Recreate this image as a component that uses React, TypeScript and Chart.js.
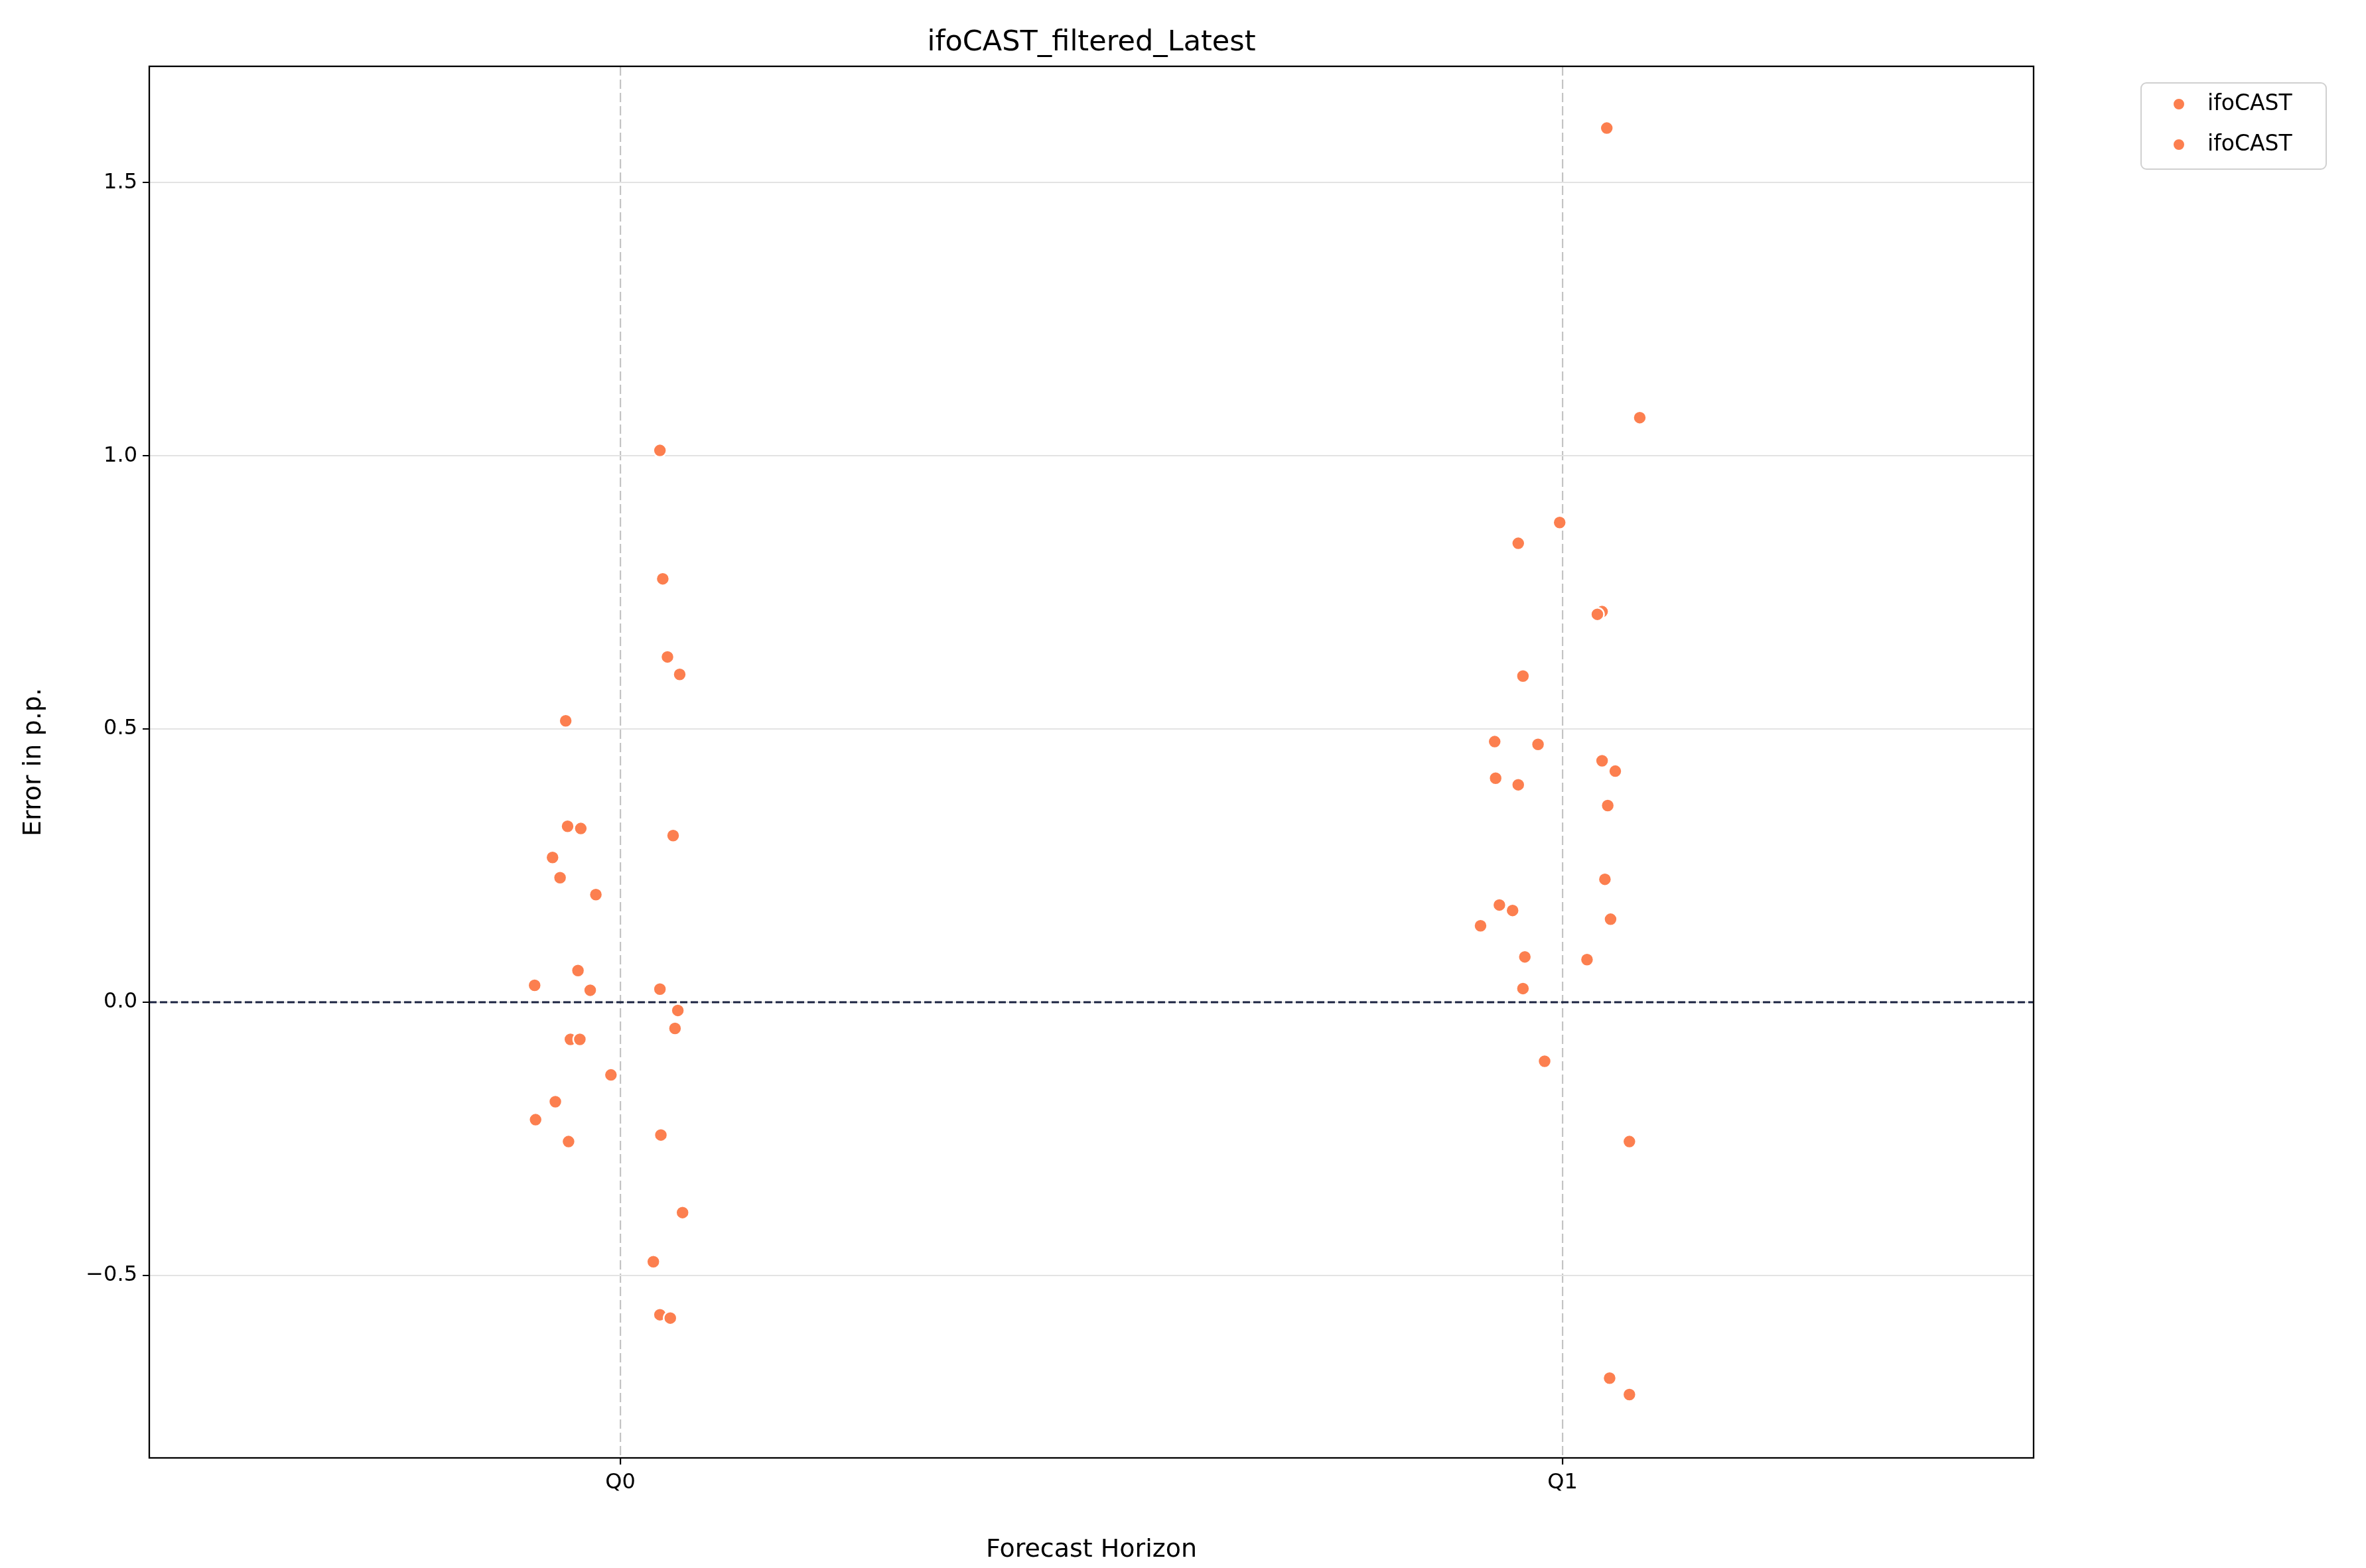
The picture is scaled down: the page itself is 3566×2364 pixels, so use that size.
import { useEffect, useRef } from 'react';
import { Chart, registerables } from 'chart.js';

Chart.register(...registerables);

const CATEGORIES = ['Q0', 'Q1'];
const Y_TICKS = [-0.5, 0, 0.5, 1, 1.5];
const SERIES_LABEL = 'ifoCAST';

// jittered horizon position, error in p.p.
const q0X = [0.042, 0.045, 0.05, 0.063, -0.058, -0.056, -0.042, 0.056, -0.072, -0.064, -0.026, -0.045, -0.091, -0.032, 0.042, 0.061, 0.058, -0.053, -0.043, -0.01, -0.069, -0.09, 0.043, -0.055, 0.066, 0.035, 0.042, 0.053];
const q0Y = [1.01, 0.775, 0.632, 0.6, 0.515, 0.322, 0.318, 0.305, 0.265, 0.228, 0.197, 0.058, 0.031, 0.022, 0.024, -0.015, -0.048, -0.068, -0.068, -0.133, -0.182, -0.215, -0.243, -0.255, -0.385, -0.475, -0.572, -0.578];
const q1X = [1.047, 1.082, 0.997, 0.953, 1.042, 1.037, 0.958, 0.928, 0.974, 1.042, 1.056, 0.929, 0.953, 1.048, 1.045, 0.933, 0.947, 0.913, 1.051, 0.96, 1.026, 0.958, 0.981, 1.071, 1.05, 1.071];
const q1Y = [1.6, 1.07, 0.878, 0.84, 0.715, 0.71, 0.597, 0.477, 0.472, 0.442, 0.423, 0.41, 0.398, 0.36, 0.225, 0.178, 0.168, 0.14, 0.152, 0.083, 0.078, 0.025, -0.108, -0.255, -0.688, -0.718];

const W = 3566;
const H = 2364;
const AREA = { left: 225, top: 100, right: 3065, bottom: 2198 };
const COLOR = '#fc7f4f';
const FONT = '"DejaVu Sans", sans-serif';

const decorPlugin = {
  id: 'decor',
  beforeDatasetsDraw(chart: any) {
    const { ctx, chartArea, scales } = chart;
    const y0 = scales.y.getPixelForValue(0);
    ctx.save();
    ctx.strokeStyle = '#1a2340';
    ctx.lineWidth = 2.8;
    ctx.setLineDash([11, 5]);
    ctx.beginPath();
    ctx.moveTo(chartArea.left, y0);
    ctx.lineTo(chartArea.right, y0);
    ctx.stroke();
    ctx.restore();
  },
  afterDraw(chart: any) {
    const { ctx, chartArea } = chart;
    ctx.save();
    ctx.strokeStyle = '#000';
    ctx.lineWidth = 2.3;
    ctx.strokeRect(chartArea.left, chartArea.top, chartArea.right - chartArea.left, chartArea.bottom - chartArea.top);

    ctx.fillStyle = '#000';
    ctx.font = `43px ${FONT}`;
    ctx.textAlign = 'center';
    ctx.textBaseline = 'bottom';
    ctx.fillText('ifoCAST_filtered_Latest', (chartArea.left + chartArea.right) / 2, chartArea.top - 14);

    // legend
    ctx.fillStyle = '#fff';
    ctx.strokeStyle = '#d0d0d0';
    ctx.lineWidth = 2;
    ctx.beginPath();
    ctx.roundRect(3227, 125, 279, 130, 8);
    ctx.fill();
    ctx.stroke();
    ctx.font = `33px ${FONT}`;
    ctx.textAlign = 'left';
    ctx.textBaseline = 'middle';
    [157, 218].forEach((y) => {
      ctx.beginPath();
      ctx.arc(3284, y, 9, 0, Math.PI * 2);
      ctx.fillStyle = COLOR;
      ctx.fill();
      ctx.strokeStyle = '#fff';
      ctx.lineWidth = 2;
      ctx.stroke();
      ctx.fillStyle = '#000';
      ctx.fillText(SERIES_LABEL, 3327, y);
    });
    ctx.restore();
  },
};

export default function App() {
  const canvasRef = useRef<HTMLCanvasElement>(null);
  const chartRef = useRef<any>(null);

  useEffect(() => {
    document.body.style.margin = '0';
    if (!canvasRef.current) return;
    if (chartRef.current) chartRef.current.destroy();

    const ds = (xs: number[], ys: number[]) => ({
      label: SERIES_LABEL,
      data: xs.map((x, i) => ({ x, y: ys[i] })),
      backgroundColor: COLOR,
      borderColor: '#fff',
      borderWidth: 2.5,
      pointRadius: 10,
    });

    chartRef.current = new Chart(canvasRef.current, {
      type: 'scatter',
      data: { datasets: [ds(q0X, q0Y), ds(q1X, q1Y)] },
      plugins: [decorPlugin],
      options: {
        responsive: false,
        devicePixelRatio: 1,
        animation: false,
        layout: { padding: { left: 0, top: AREA.top, right: W - AREA.right, bottom: 0 } },
        plugins: { legend: { display: false }, tooltip: { enabled: false } },
        scales: {
          x: {
            type: 'linear',
            min: -0.5,
            max: 1.5,
            afterBuildTicks: (s: any) => { s.ticks = CATEGORIES.map((_, i) => ({ value: i })); },
            afterFit: (s: any) => { s.height = H - AREA.bottom; },
            ticks: {
              callback: (v: any) => CATEGORIES[v] ?? '',
              color: '#000',
              font: { family: FONT, size: 32 },
              padding: 8,
            },
            grid: { color: '#c4c4c4', lineWidth: 2.2, tickLength: 10, tickColor: '#000', drawTicks: true },
            border: { display: false, dash: [14, 6] },
            title: { display: true, text: 'Forecast Horizon', color: '#000', font: { family: FONT, size: 38 }, padding: { top: 2 } },
          },
          y: {
            min: -0.834,
            max: 1.713,
            afterBuildTicks: (s: any) => { s.ticks = Y_TICKS.map((v) => ({ value: v })); },
            afterFit: (s: any) => { s.width = AREA.left; },
            ticks: {
              callback: (v: any) => (v < 0 ? '\u2212' + Math.abs(v).toFixed(1) : v.toFixed(1)),
              color: '#000',
              font: { family: FONT, size: 32 },
              padding: 8,
            },
            grid: { color: '#e3e3e3', lineWidth: 2, tickLength: 10, tickColor: '#000' },
            border: { display: false },
            title: { display: true, text: 'Error in p.p.', color: '#000', font: { family: FONT, size: 38 }, padding: { top: 28, bottom: 4 } },
          },
        },
      } as any,
    });

    return () => {
      if (chartRef.current) chartRef.current.destroy();
    };
  }, []);

  return <canvas ref={canvasRef} width={W} height={H} style={{ display: 'block', width: W, height: H }} />;
}
